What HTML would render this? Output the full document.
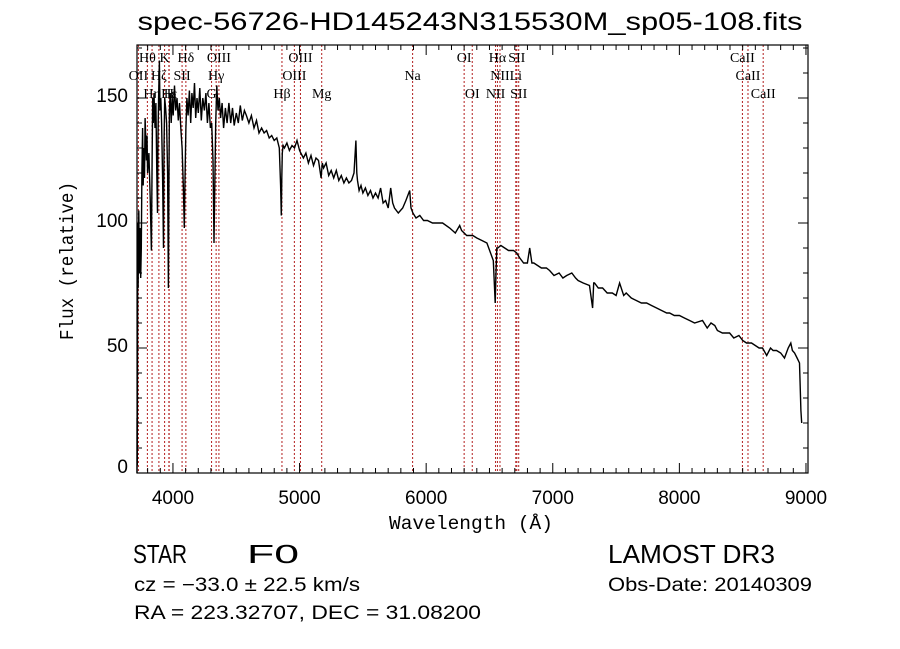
<!DOCTYPE html>
<html><head><meta charset="utf-8"><style>
html,body{margin:0;padding:0;background:#fff;}
svg{display:block;}
text{fill:#000;}
</style></head><body>
<svg id="chart" width="900" height="649" viewBox="0 0 900 649" xmlns="http://www.w3.org/2000/svg">
<rect width="900" height="649" fill="#fff"/>
<text x="470" y="30" font-family="Liberation Sans, sans-serif" font-size="25" text-anchor="middle" textLength="665" lengthAdjust="spacingAndGlyphs">spec-56726-HD145243N315530M_sp05-108.fits</text>
<g id="lines"></g>
<g id="labels"></g>
<g id="series"></g>
<g id="axes"></g>
<text x="471" y="529" font-family="Liberation Mono, monospace" font-size="19" text-anchor="middle" textLength="164" lengthAdjust="spacingAndGlyphs">Wavelength (Å)</text>
<text transform="translate(73,261) rotate(-90)" font-family="Liberation Mono, monospace" font-size="19" text-anchor="middle" textLength="158" lengthAdjust="spacingAndGlyphs">Flux (relative)</text>
<text x="133" y="563" font-family="Liberation Sans, sans-serif" font-size="26" textLength="54" lengthAdjust="spacingAndGlyphs">STAR</text>
<text x="247" y="563" font-family="Liberation Sans, sans-serif" font-size="26" textLength="52" lengthAdjust="spacingAndGlyphs">F0</text>
<text x="608" y="563" font-family="Liberation Sans, sans-serif" font-size="26" textLength="167" lengthAdjust="spacingAndGlyphs">LAMOST DR3</text>
<text x="134" y="591" font-family="Liberation Sans, sans-serif" font-size="19" textLength="226" lengthAdjust="spacingAndGlyphs">cz = −33.0 ± 22.5 km/s</text>
<text x="608" y="591" font-family="Liberation Sans, sans-serif" font-size="19" textLength="204" lengthAdjust="spacingAndGlyphs">Obs-Date: 20140309</text>
<text x="134" y="619" font-family="Liberation Sans, sans-serif" font-size="19" textLength="347" lengthAdjust="spacingAndGlyphs">RA = 223.32707, DEC =  31.08200</text>
</svg>
<script>
const waves = [3716,3717,3718,3722,3725,3730,3735,3740,3745,3750,3755,3760,3765,3770,3775,3780,3790,3795,3800,3810,3820,3830,3835,3840,3845,3850,3858,3865,3872,3878,3882,3887,3893,3898,3904,3910,3918,3925,3929,3935,3942,3950,3958,3964,3968,3972,3978,3986,3994,4002,4012,4022,4032,4042,4052,4062,4072,4082,4090,4096,4102,4110,4120,4130,4140,4150,4160,4170,4180,4190,4200,4212,4224,4236,4248,4260,4272,4284,4296,4306,4316,4324,4331,4338,4346,4356,4366,4376,4388,4400,4414,4428,4442,4456,4470,4484,4500,4516,4532,4548,4564,4580,4600,4620,4640,4660,4680,4700,4720,4740,4760,4780,4800,4820,4840,4850,4856,4860,4864,4870,4880,4900,4920,4940,4960,4980,5000,5010,5030,5050,5070,5090,5110,5130,5150,5170,5180,5190,5210,5230,5250,5270,5290,5310,5330,5350,5370,5390,5410,5430,5445,5452,5458,5470,5485,5500,5520,5540,5560,5580,5600,5620,5640,5660,5680,5700,5720,5736,5750,5780,5815,5840,5870,5880,5895,5920,5950,5980,6010,6050,6090,6130,6186,6230,6265,6280,6320,6368,6400,6440,6480,6530,6545,6552,6558,6565,6590,6620,6650,6690,6715,6740,6770,6800,6818,6835,6850,6880,6910,6950,6975,7010,7050,7080,7110,7150,7180,7200,7240,7290,7315,7323,7330,7360,7394,7430,7470,7500,7528,7560,7580,7620,7660,7700,7741,7780,7820,7860,7900,7923,7960,8000,8040,8081,8120,8183,8220,8250,8280,8300,8340,8397,8430,8470,8500,8530,8570,8600,8630,8657,8690,8720,8740,8767,8800,8830,8860,8880,8893,8910,8930,8949,8960,8966,8970];
const fluxes = [0,22,3,100,74,105,80,98,78,90,120,138,115,130,118,142,125,135,120,128,110,89,125,150,140,152,138,148,120,104,135,150,165,145,150,140,118,90,130,150,146,140,120,74,115,145,152,140,150,143,155,145,150,141,148,138,130,115,98,120,138,150,143,153,140,152,146,156,142,150,144,154,141,150,145,152,140,148,138,140,125,92,118,140,155,145,150,142,148,138,146,140,148,140,146,139,144,140,147,141,145,143,140,143,138,141,136,138,136,137,134,135,133,134,130,115,103,118,128,131,130,132,129,131,130,133,129,128,126,128,124,127,123,126,125,118,124,122,124,119,121,118,121,117,119,116,118,116,117,120,133,120,117,113,115,112,114,111,113,110,112,110,114,108,109,106,114,108,106,104,106,109,113,106,104,102,103,101,101,100,100,100,98,96,99,97,95,95,94,93,92,85,68,80,90,90,91,90,89,89,88,86,84,84,90,84,84,83,82,82,81,79,80,78,79,80,78,77,76,75,66,76,76,74,74,72,72,71,76,71,72,70,69,68,68,67,66,65,64,64,63,63,62,61,60,61,58,60,59,57,56,56,54,55,53,52,52,51,50,50,47,50,49,49,48,46,50,52,49,48,46,44,25,20];
const lineWaves = [3727,3798,3835,3889,3934,3968,3970,4072,4102,4305,4341,4363,4861,4959,5007,5175,5893,6300,6364,6548,6563,6583,6708,6716,6731,8498,8542,8662];
const labelNames = ["OII","Hθ","Hη","Hζ","K","H","Hε","SII","Hδ","G","Hγ","OIII","Hβ","OIII","OIII","Mg","Na","OI","OI","NII","Hα","NII","Li","SII","SII","CaII","CaII","CaII"];
const labelRows = [1,0,2,1,0,2,2,1,0,2,1,0,2,1,0,2,1,0,2,2,0,1,1,0,2,0,1,2];
const xTickLabels = ["4000","5000","6000","7000","8000","9000"];
const yTickLabels = ["0","50","100","150"];

const NS = "http://www.w3.org/2000/svg";
const L = 137, R = 808, T = 45, B = 473;
const xMin = 3716, xMax = 9016, yMin = 0, yMax = 171.2;
function xs(w){ return L + (w - xMin) / (xMax - xMin) * (R - L); }
function ys(f){ return B - (f - yMin) / (yMax - yMin) * (B - T); }
function mk(tag, attrs, parent){ const e = document.createElementNS(NS, tag); for (const k in attrs) e.setAttribute(k, attrs[k]); parent.appendChild(e); return e; }

const gl = document.getElementById('lines');
const glab = document.getElementById('labels');
lineWaves.forEach((w, i) => {
  const ln = mk('line', {x1: xs(w), x2: xs(w), y1: T, y2: B, stroke: '#b21f1f', 'stroke-width': 1, 'stroke-dasharray': '2,2'}, gl);
  
  
  const t = mk('text', {x: xs(w), y: 62 + labelRows[i] * 18, 'font-family': 'Liberation Serif, serif', 'font-size': 14, 'text-anchor': 'middle'}, glab);
  t.textContent = labelNames[i];
  
  
});

const gs = document.getElementById('series');
let d = '';
waves.forEach((w, i) => { d += (i ? 'L' : 'M') + xs(w).toFixed(1) + ',' + ys(fluxes[i]).toFixed(1); });
const path = mk('path', {d: d, fill: 'none', stroke: '#000', 'stroke-width': 1.4, 'stroke-linejoin': 'miter'}, gs);



const ga = document.getElementById('axes');
const frame = mk('rect', {x: L, y: T, width: R - L, height: B - T, fill: 'none', stroke: '#000', 'stroke-width': 1.2}, ga);


for (let w = 3800; w <= 9000; w += 100) {
  const major = w % 1000 === 0, len = major ? 10 : 5;
  mk('line', {x1: xs(w), x2: xs(w), y1: B, y2: B - len, stroke: '#000'}, ga);
  mk('line', {x1: xs(w), x2: xs(w), y1: T, y2: T + len, stroke: '#000'}, ga);
}
xTickLabels.forEach(s => {
  const t = mk('text', {x: xs(+s), y: 504, 'font-family': 'Liberation Sans, sans-serif', 'font-size': 19, 'text-anchor': 'middle'}, ga);
  t.textContent = s;
  
  
});
for (let f = 0; f <= 170; f += 10) {
  const major = f % 50 === 0, len = major ? 10 : 5;
  mk('line', {x1: L, x2: L + len, y1: ys(f), y2: ys(f), stroke: '#000'}, ga);
  mk('line', {x1: R, x2: R - len, y1: ys(f), y2: ys(f), stroke: '#000'}, ga);
}
yTickLabels.forEach(s => {
  const t = mk('text', {x: 128, y: Math.min(ys(+s) + 4, 473), 'font-family': 'Liberation Sans, sans-serif', 'font-size': 19, 'text-anchor': 'end'}, ga);
  t.textContent = s;
  
  
});
</script>
</body></html>
